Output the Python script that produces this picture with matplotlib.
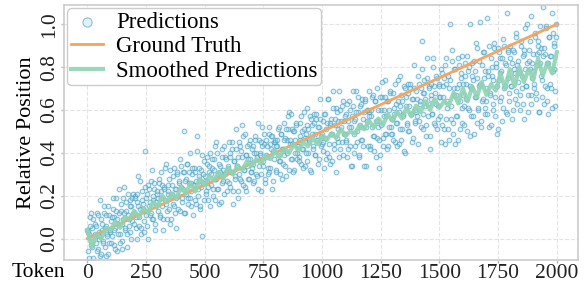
import numpy as np
import matplotlib
matplotlib.use('Agg')
import matplotlib.pyplot as plt

# predictions at tokens 0, 4, ..., 1996, split into quarters
pred_a = [0.04, -0.06, 0.02, 0.10, -0.03, 0.05, -0.09, 0.01, 0.07, -0.02, 0.12, -0.05, 0.03, 0.00, -0.08, 0.09, 0.04, -0.01, 0.15, -0.04, 0.06, 0.02, -0.07, 0.11, 0.03,
          0.08, 0.01, 0.14, -0.03, 0.10, 0.05, 0.19, -0.06, 0.07, 0.12, 0.02, 0.16, -0.01, 0.09, 0.24, 0.04, 0.13, -0.04, 0.11, 0.06, 0.18, 0.03, 0.15, 0.08, 0.21,
          0.12, 0.20, 0.05, 0.17, 0.29, 0.10, 0.14, 0.02, 0.22, 0.16, 0.08, 0.41, 0.13, 0.19, 0.06, 0.25, 0.15, 0.11, 0.27, 0.09, 0.18, 0.23, 0.04, 0.17, 0.21,
          0.19, 0.26, 0.11, 0.22, 0.31, 0.15, 0.09, 0.24, 0.18, 0.35, 0.13, 0.21, 0.28, 0.07, 0.20, 0.25, 0.16, 0.33, 0.12, 0.23, 0.19, 0.30, 0.14, 0.26, 0.37,
          0.24, 0.17, 0.31, 0.50, 0.12, 0.28, 0.35, 0.19, 0.26, 0.40, 0.22, 0.15, 0.30, 0.25, 0.33, 0.18, 0.27, 0.48, 0.23, 0.29, 0.14, 0.32, 0.01, 0.26, 0.36]
pred_b = [0.29, 0.22, 0.35, 0.27, 0.18, 0.31, 0.40, 0.25, 0.33, 0.20, 0.37, 0.28, 0.45, 0.23, 0.30, 0.16, 0.34, 0.29, 0.42, 0.26, 0.32, 0.21, 0.38, 0.31, 0.27,
          0.33, 0.26, 0.40, 0.31, 0.45, 0.22, 0.36, 0.29, 0.51, 0.34, 0.19, 0.38, 0.30, 0.43, 0.27, 0.53, 0.48, 0.32, 0.24, 0.39, 0.34, 0.28, 0.44, 0.37, 0.31,
          0.33, 0.43, 0.26, 0.40, 0.48, 0.30, 0.38, 0.23, 0.46, 0.40, 0.30, 0.52, 0.36, 0.44, 0.26, 0.46, 0.38, 0.33, 0.49, 0.31, 0.44, 0.48, 0.23, 0.41, 0.45,
          0.45, 0.32, 0.43, 0.51, 0.36, 0.30, 0.49, 0.42, 0.35, 0.54, 0.39, 0.47, 0.29, 0.46, 0.51, 0.59, 0.44, 0.58, 0.37, 0.50, 0.32, 0.46, 0.53, 0.40, 0.43,
          0.38, 0.54, 0.46, 0.35, 0.50, 0.42, 0.59, 0.34, 0.49, 0.53, 0.40, 0.46, 0.57, 0.31, 0.53, 0.43, 0.58, 0.39, 0.49, 0.56, 0.46, 0.35, 0.52, 0.65, 0.43]
pred_c = [0.49, 0.41, 0.58, 0.47, 0.37, 0.54, 0.65, 0.44, 0.53, 0.35, 0.56, 0.49, 0.69, 0.42, 0.53, 0.61, 0.47, 0.55, 0.38, 0.60, 0.52, 0.45, 0.64, 0.55, 0.49,
          0.46, 0.58, 0.38, 0.55, 0.64, 0.43, 0.52, 0.34, 0.62, 0.55, 0.43, 0.69, 0.50, 0.59, 0.38, 0.62, 0.52, 0.46, 0.65, 0.43, 0.59, 0.64, 0.34, 0.55, 0.60,
          0.59, 0.43, 0.57, 0.66, 0.48, 0.41, 0.64, 0.55, 0.47, 0.70, 0.52, 0.33, 0.39, 0.60, 0.66, 0.47, 0.57, 0.74, 0.49, 0.64, 0.43, 0.60, 0.68, 0.52, 0.56,
          0.49, 0.68, 0.58, 0.45, 0.63, 0.54, 0.74, 0.44, 0.62, 0.67, 0.51, 0.58, 0.71, 0.40, 0.66, 0.54, 0.72, 0.50, 0.62, 0.70, 0.58, 0.45, 0.65, 0.81, 0.54,
          0.59, 0.65, 0.76, 0.55, 0.63, 0.70, 0.92, 0.68, 0.58, 0.74, 0.65, 0.53, 0.84, 0.63, 0.71, 0.48, 0.67, 0.58, 0.80, 0.71, 0.53, 0.63, 0.75, 0.56, 0.66]
pred_d = [0.72, 0.66, 0.45, 0.77, 0.71, 0.51, 0.81, 0.56, 0.64, 0.76, 0.46, 1.00, 0.62, 0.88, 0.54, 0.70, 0.79, 0.44, 0.67, 0.57, 0.84, 0.72, 0.51, 0.77, 0.61,
          0.67, 0.62, 0.82, 0.72, 0.50, 0.78, 0.60, 1.00, 0.71, 0.57, 0.82, 0.74, 0.49, 0.78, 0.66, 0.89, 0.60, 0.71, 1.01, 0.55, 0.64, 0.87, 0.75, 0.58, 0.78,
          0.64, 1.03, 0.78, 0.52, 0.68, 0.84, 0.76, 0.60, 0.89, 0.66, 0.82, 0.49, 0.89, 0.74, 0.64, 0.84, 0.78, 0.55, 0.93, 0.70, 0.82, 0.59, 1.05, 0.88, 0.64,
          0.90, 0.71, 0.82, 0.60, 0.87, 0.77, 0.69, 0.94, 0.81, 0.73, 0.78, 0.67, 0.90, 0.76, 0.63, 0.86, 0.98, 0.71, 0.82, 0.59, 0.88, 0.79, 1.04, 0.67, 0.82,
          0.78, 0.70, 0.96, 0.65, 0.86, 0.92, 0.59, 0.82, 0.89, 0.74, 1.08, 0.63, 0.86, 0.99, 0.70, 0.82, 0.58, 0.94, 0.85, 0.70, 1.05, 0.78, 0.91, 0.62, 0.94]

# predictions at tokens 2, 6, ..., 1998
pred2_a = [0.03, -0.09, 0.06, -0.01, 0.12, -0.04, 0.09, -0.12, 0.02, 0.06, -0.06, 0.11, 0.01, 0.18, -0.07, 0.07, -0.02, 0.12, 0.05, -0.08, 0.11, 0.01, 0.15, -0.02, 0.04,
           -0.02, 0.10, 0.19, 0.04, -0.05, 0.13, 0.09, 0.02, 0.23, -0.02, 0.13, 0.07, -0.05, 0.19, 0.12, 0.05, 0.17, 0.02, 0.21, 0.09, 0.15, 0.00, 0.19, 0.11, 0.07,
           0.19, 0.10, 0.00, 0.21, 0.15, 0.06, 0.27, 0.05, 0.18, 0.14, 0.03, 0.24, 0.11, 0.21, 0.00, 0.23, 0.17, 0.12, 0.32, 0.09, 0.20, 0.26, 0.07, 0.15, 0.22,
           0.13, 0.28, 0.10, 0.19, 0.25, 0.04, 0.23, 0.33, 0.16, 0.09, 0.22, 0.25, 0.14, 0.32, 0.09, 0.21, 0.29, 0.15, 0.23, 0.05, 0.31, 0.20, 0.27, 0.13, 0.34,
           0.19, 0.23, 0.31, 0.12, 0.27, 0.21, 0.35, 0.16, 0.31, 0.19, 0.26, 0.33, 0.11, 0.25, 0.31, 0.16, 0.41, 0.20, 0.27, 0.33, 0.15, 0.24, 0.39, 0.30, 0.18]
pred2_b = [0.27, 0.21, 0.38, 0.24, 0.34, 0.15, 0.30, 0.37, 0.23, 0.32, 0.18, 0.43, 0.28, 0.40, 0.23, 0.35, 0.31, 0.17, 0.38, 0.27, 0.43, 0.30, 0.37, 0.22, 0.34,
           0.45, 0.24, 0.38, 0.31, 0.42, 0.16, 0.36, 0.28, 0.42, 0.34, 0.22, 0.45, 0.28, 0.41, 0.38, 0.25, 0.32, 0.49, 0.39, 0.22, 0.43, 0.37, 0.28, 0.46, 0.31,
           0.42, 0.35, 0.27, 0.46, 0.40, 0.29, 0.54, 0.34, 0.39, 0.45, 0.22, 0.43, 0.34, 0.49, 0.28, 0.39, 0.43, 0.30, 0.52, 0.33, 0.42, 0.48, 0.27, 0.37, 0.46,
           0.43, 0.31, 0.46, 0.39, 0.52, 0.36, 0.49, 0.28, 0.42, 0.46, 0.34, 0.51, 0.40, 0.57, 0.32, 0.46, 0.37, 0.51, 0.44, 0.31, 0.50, 0.40, 0.54, 0.37, 0.43,
           0.36, 0.48, 0.57, 0.42, 0.33, 0.51, 0.47, 0.40, 0.61, 0.36, 0.51, 0.45, 0.32, 0.56, 0.49, 0.42, 0.54, 0.39, 0.58, 0.46, 0.52, 0.37, 0.56, 0.48, 0.44]
pred2_c = [0.55, 0.45, 0.33, 0.58, 0.51, 0.40, 0.65, 0.38, 0.54, 0.49, 0.36, 0.61, 0.44, 0.56, 0.31, 0.59, 0.51, 0.45, 0.69, 0.42, 0.55, 0.62, 0.39, 0.49, 0.57,
           0.45, 0.63, 0.42, 0.52, 0.60, 0.34, 0.57, 0.69, 0.49, 0.40, 0.56, 0.59, 0.45, 0.66, 0.39, 0.53, 0.63, 0.46, 0.56, 0.34, 0.65, 0.52, 0.60, 0.43, 0.69,
           0.57, 0.42, 0.60, 0.52, 0.67, 0.48, 0.64, 0.38, 0.55, 0.60, 0.46, 0.66, 0.53, 0.73, 0.43, 0.60, 0.49, 0.66, 0.57, 0.42, 0.64, 0.52, 0.69, 0.49, 0.56,
           0.46, 0.61, 0.72, 0.54, 0.43, 0.64, 0.59, 0.51, 0.76, 0.46, 0.64, 0.57, 0.41, 0.70, 0.62, 0.53, 0.68, 0.50, 0.72, 0.58, 0.65, 0.47, 0.70, 0.60, 0.55,
           0.69, 0.57, 0.44, 0.72, 0.64, 0.52, 0.79, 0.51, 0.68, 0.62, 0.48, 0.75, 0.57, 0.70, 0.42, 0.72, 0.65, 0.58, 0.84, 0.54, 0.68, 0.76, 0.51, 0.62, 0.71]
pred2_d = [0.57, 0.79, 0.53, 0.66, 0.75, 0.44, 0.72, 0.84, 0.61, 0.51, 0.70, 0.74, 0.56, 0.83, 0.49, 0.67, 0.79, 0.57, 0.70, 0.46, 0.81, 0.64, 0.75, 0.54, 0.85,
           0.72, 0.53, 0.76, 0.65, 0.85, 0.61, 0.80, 0.48, 0.70, 0.76, 0.57, 0.83, 0.66, 0.91, 0.54, 0.75, 0.61, 0.83, 0.72, 0.52, 0.81, 0.65, 0.87, 0.61, 0.70,
           0.58, 0.76, 0.90, 0.67, 0.53, 0.80, 0.74, 0.63, 0.91, 0.57, 0.80, 0.71, 0.51, 0.87, 0.77, 0.66, 0.84, 0.61, 0.90, 0.71, 0.81, 0.58, 0.87, 0.75, 0.68,
           0.84, 0.71, 0.56, 0.88, 0.79, 0.65, 0.96, 0.63, 0.83, 0.77, 0.60, 0.92, 0.70, 0.85, 0.56, 0.88, 0.79, 0.71, 1.00, 0.67, 0.83, 0.92, 0.63, 0.75, 0.86,
           0.72, 0.94, 0.68, 0.81, 0.90, 0.59, 0.87, 0.99, 0.76, 0.66, 0.85, 0.89, 0.71, 0.98, 0.64, 0.82, 0.94, 0.72, 0.85, 0.61, 0.96, 0.79, 0.90, 0.69, 1.00]

# smoothed predictions, every 20 tokens (0..2000)
smooth_vals = [0.04, -0.04, 0.02, 0.00, 0.05, 0.04, 0.08, 0.05, 0.10, 0.09,
               0.13, 0.10, 0.14, 0.12, 0.17, 0.15, 0.20, 0.17, 0.21, 0.19,
               0.24, 0.21, 0.26, 0.22, 0.28, 0.25, 0.29, 0.27, 0.31, 0.28,
               0.33, 0.30, 0.34, 0.32, 0.36, 0.34, 0.37, 0.35, 0.39, 0.37,
               0.41, 0.38, 0.42, 0.40, 0.44, 0.41, 0.45, 0.43, 0.47, 0.44,
               0.48, 0.46, 0.49, 0.47, 0.51, 0.48, 0.50, 0.49, 0.53, 0.51,
               0.55, 0.52, 0.56, 0.53, 0.58, 0.55, 0.59, 0.56, 0.61, 0.57,
               0.62, 0.59, 0.64, 0.60, 0.65, 0.61, 0.64, 0.62, 0.68, 0.63,
               0.70, 0.64, 0.71, 0.66, 0.73, 0.67, 0.72, 0.69, 0.77, 0.70,
               0.79, 0.71, 0.80, 0.73, 0.79, 0.74, 0.84, 0.76, 0.82, 0.77,
               0.87]

gt_tokens = [0, 2000]
gt_vals = [0.0, 1.0]

x_ticks = [0, 250, 500, 750, 1000, 1250, 1500, 1750, 2000]
y_ticks = [0.0, 0.2, 0.4, 0.6, 0.8, 1.0]

plt.rcParams['font.family'] = ['Liberation Serif', 'DejaVu Serif']
plt.rcParams['font.size'] = 16

tokens = np.concatenate([np.arange(0, 2000, 4), np.arange(2, 2000, 4)])
preds = np.array(pred_a + pred_b + pred_c + pred_d + pred2_a + pred2_b + pred2_c + pred2_d)
smooth_tokens = np.arange(0, 2001, 20)

fig = plt.figure(figsize=(5.85, 2.87), dpi=100)
ax = fig.add_axes([0.109, 0.094, 0.879, 0.889])

ax.scatter(tokens, preds, s=11, facecolor=(0.68, 0.85, 0.92, 0.35),
           edgecolor=(0.25, 0.62, 0.76, 0.6), linewidths=0.8,
           label='Predictions', zorder=2)
ax.plot(gt_tokens, gt_vals, color='#f6a460', lw=2, label='Ground Truth', zorder=3)
ax.plot(smooth_tokens, smooth_vals, color='#90d3b3', lw=3, alpha=0.9,
        label='Smoothed Predictions', zorder=4)

ax.set_xlim(-100, 2090)
ax.set_ylim(-0.1, 1.09)
ax.set_xticks(x_ticks)
ax.set_yticks(y_ticks)
ax.set_yticklabels([f'{v:.1f}' for v in y_ticks], rotation=90, va='center')
ax.set_ylabel('Relative Position', labelpad=3)

ax.grid(True, ls='--', color='#e4e4e4', lw=0.8)
ax.set_axisbelow(True)
for sp in ax.spines.values():
    sp.set_color('#cccccc')
    sp.set_linewidth(1.2)
ax.tick_params(length=2.5, color='#bbbbbb', width=1, pad=0.5,
               labelcolor='#222222', labelsize=15.5)
ax.text(-0.05, -0.05, 'Token', transform=ax.transAxes, ha='center', va='center',
        fontsize=15.5)

leg = ax.legend(loc='upper left', markerscale=2.0, fancybox=True, framealpha=1,
                edgecolor='#cccccc', borderpad=0.15, labelspacing=0.15,
                handlelength=1.4, handletextpad=0.6, borderaxespad=0.15,
                fontsize=16.5)

fig.savefig('out.png', dpi=100)
